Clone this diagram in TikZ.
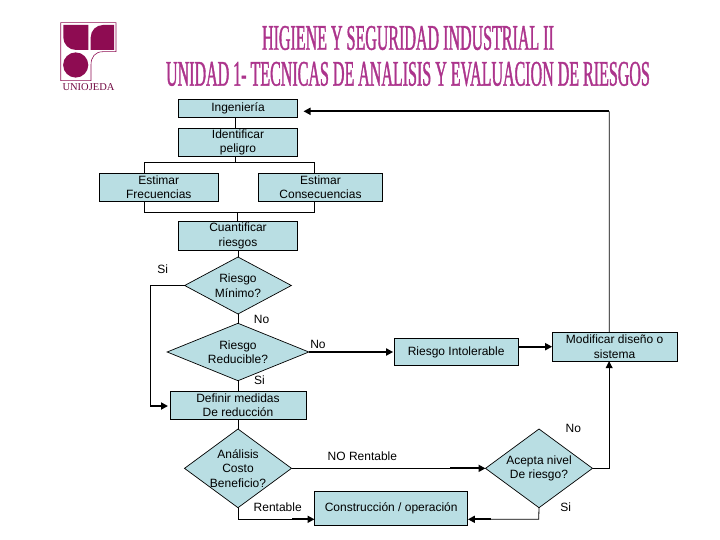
\documentclass[tikz,border=0pt]{standalone}
\usepackage{fontspec}
\setmainfont{Liberation Sans}
\newfontfamily\titlefont[FakeStretch=0.445,FakeBold=1]{Liberation Serif}
\newfontfamily\logofont{Liberation Serif}
\usepackage{xcolor}
\usetikzlibrary{shapes.geometric, arrows.meta, positioning}
\definecolor{cajaazul}{RGB}{185,222,227}
\definecolor{titulo}{RGB}{172,52,140}
\definecolor{logomag}{RGB}{142,12,82}

\begin{document}
\begin{tikzpicture}[
  x=1pt, y=1pt,
  font=\fontsize{12}{14.5}\selectfont,
  >={Triangle[length=7pt,width=7pt]},
  box/.style n args={2}{draw, inner sep=0pt, outer sep=0pt, align=center, line width=0.9pt,
              fill=cajaazul, minimum width=#1pt, minimum height=#2pt},
  rombo/.style n args={2}{draw, diamond, inner sep=-12pt, outer sep=0pt, align=center, line width=0.7pt,
              fill=cajaazul, minimum width=#1pt, minimum height=#2pt},
  arr/.style={line width=0.8pt},
  harr/.style={->, line width=2pt},
  tarr/.style={->, line width=0.8pt},
  annot/.style={inner sep=0pt},
  tit/.style={font=\titlefont\fontsize{36}{38}\selectfont, text=titulo, inner sep=0pt},
]
\useasboundingbox (0,0) rectangle (720,-540);

%% ---------- Logo ------------------------------------------------
\draw[logomag, line width=0.6pt] (60.7,-80.7) -- (60.7,-22.7) -- (116,-22.7) -- (116,-51.7)
      -- (103,-51.7) .. controls (95,-51.7) and (91,-57) .. (91,-65) -- (91,-80.7) -- cycle;
\fill[logomag] (63.3,-25) -- (88.3,-25) -- (88.3,-50) -- (76,-50)
      arc[start angle=270, end angle=180, radius=12.7] -- cycle;
\fill[logomag] (114,-25) -- (103,-25) arc[start angle=90, end angle=180, radius=12.3]
      -- (90.7,-50) -- (114,-50) -- cycle;
\fill[logomag] (75.7,-65) circle[radius=12.6];
\node[inner sep=0pt, text=logomag!80!black, font=\logofont\fontsize{10.5}{11}\selectfont] (uni) at (88.5,-87.3) {UNIOJEDA};

%% ---------- Title -----------------------------------------------
\node[tit] (tit1) at (408,-38) {HIGIENE Y SEGURIDAD INDUSTRIAL II};
\node[tit] (tit2) at (408,-74) {UNIDAD 1- TECNICAS DE ANALISIS Y EVALUACION DE RIESGOS};

%% ---------- Column: Ingenieria to Cuantificar ------------------
\node[box={119}{18}] (ing) at (238,-108.3) {Ingeniería};
\node[box={119}{28}, below=11pt of ing] (idn) {Identificar\\peligro};
\node[box={119}{28}, below=17pt of idn, xshift=-79.2pt] (fre) {Estimar\\Frecuencias};
\node[box={124.4}{28}, right=40pt of fre] (cns) {Estimar\\Consecuencias};
\node[box={119}{29}, below=65pt of idn] (cua) {Cuantificar\\riesgos};

%% ---------- Column: decisions ------------------------------------
\node[rombo={106.7}{57}, below=6.7pt of cua] (mim) {Riesgo\\Mínimo?};
\node[rombo={141.7}{57.4}, below=9.3pt of mim] (red) {Riesgo\\Reducible?};
\node[box={136}{28}, below=10.6pt of red] (def) {Definir medidas\\De reducción};
\node[rombo={107}{78.7}, below=9.7pt of def] (ana) {Análisis\\Costo\\Beneficio?};

%% ---------- Right side -------------------------------------------
\node[box={124}{27.7}, right=85.3pt of red] (int) {Riesgo Intolerable};
\node[box={125}{29}, right=34pt of int, yshift=5.3pt] (mod) {Modificar diseño o\\sistema};
\node[rombo={107}{78.7}, right=194pt of ana] (acp) {Acepta nivel\\De riesgo?};
\node[box={153.4}{33.6}, right=23pt of ana, yshift=-40.2pt] (ope) {Construcción / operación};

%% ---- Helper points ----------------------------------------------
\coordinate (spl) at (235.3,-162.3);
\coordinate (mrg) at (237.3,-212.3);
\coordinate (sik) at (150.4,-406);
\coordinate (top) at (609.3,-111.3);
\coordinate (rnt) at (238,-519.3);
\coordinate (rnh) at (292,-519.3);
\coordinate (sih) at (490.7,-519.3);
\coordinate (snb) at (538.7,-519.3);
\coordinate (nrh) at (450,-468.3);

%% ---- Arrows ------------------------------------------------------
\draw[arr] ([xshift=-2.7pt]ing.south) -- ([xshift=-2.7pt]idn.north);
\draw[arr] ([xshift=-2.7pt]idn.south) -- (spl);
\draw[arr] ([xshift=-14.5pt]fre.north) |- (spl) -| ([xshift=-6.2pt]cns.north);
\draw[arr] ([xshift=-14.5pt]fre.south) |- (mrg) -| ([xshift=-6.2pt]cns.south);
\draw[arr] (mrg) -- (mrg |- cua.north);
\draw[arr] (cua) -- (mim);
\draw[arr] (mim) -- (red);
\draw[arr] (red) -- (def);
\draw[arr] (def) -- (ana);
\draw[arr] (mim.west) -| (sik);
\draw[harr, shorten >=2pt] (sik) -- (sik -| def.west);
\draw[harr, shorten >=1pt] (red.east) -- (red.east -| int.west);
\draw[harr, shorten >=0pt] (int.east |- mod) -- (mod.west);
\draw[tarr] (acp.east) -| ([xshift=-5.5pt]mod.south);
\draw[arr] ([xshift=-5.5pt]mod.north) -- (top);
\draw[harr, shorten >=6pt] (top) -- (top -| ing.east);
\draw[arr] (ana.east) -- (ana.east -| nrh);
\draw[harr] (ana.east -| nrh) -- (acp.west);
\draw[arr] (ana.south) -- (rnt) -- (rnh);
\draw[harr] (rnh) -- (rnh -| ope.west);
\draw[arr] (acp.south) -- (snb) -- (sih);
\draw[harr] (sih) -- (sih -| ope.east);

%% ---- Labels ------------------------------------------------------
\node[annot] (lsi1) at (162.6,-269.6) {Si};
\node[annot] (lno1) at (261.6,-319.6) {No};
\node[annot] (lno2) at (318,-344.7) {No};
\node[annot] (lsi2) at (259.4,-380.6) {Si};
\node[annot] (lnor) at (362.4,-456.7) {NO Rentable};
\node[annot] (lren) at (277.7,-507.7) {Rentable};
\node[annot] (lno3) at (573.3,-428.7) {No};
\node[annot] (lsi3) at (565.7,-507.3) {Si};
\end{tikzpicture}
\end{document}
